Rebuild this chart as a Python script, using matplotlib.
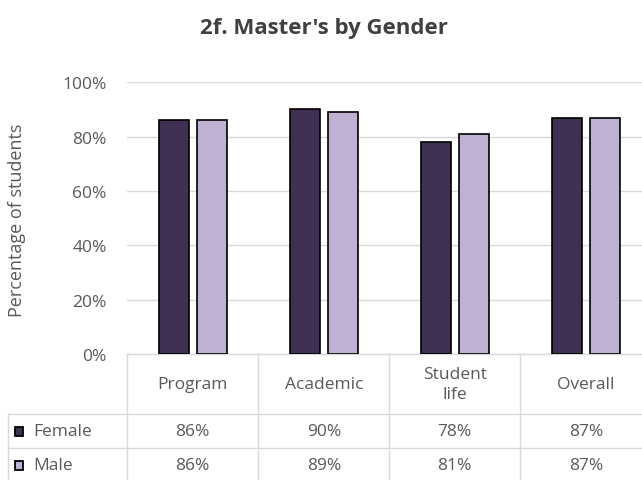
import numpy as np
import matplotlib
matplotlib.use("Agg")
import matplotlib.pyplot as plt
from matplotlib.patches import Rectangle

categories = ["Program", "Academic", "Student\nlife", "Overall"]
series = ["Female", "Male"]
female = [0.86, 0.90, 0.78, 0.87]
male = [0.86, 0.89, 0.81, 0.87]
colors = ["#403152", "#BFB1D2"]

plt.rcParams["font.family"] = ["Open Sans", "DejaVu Sans"]
txt = "#595959"
grid = "#D9D9D9"

W, H = 642, 481
fig = plt.figure(figsize=(W / 100, H / 100), dpi=100)

# plot area in pixels (right side runs past the picture edge)
x0, x1 = 127.3, 651.3
ytop, ybot = 83.3, 355.0
ax = fig.add_axes([x0 / W, 1 - ybot / H, (x1 - x0) / W, (ybot - ytop) / H])

x = np.arange(len(categories))
bw = 0.229
off = 0.143
ax.bar(x - off, female, bw, color=colors[0], edgecolor="black", linewidth=1.2, zorder=3)
ax.bar(x + off, male, bw, color=colors[1], edgecolor="black", linewidth=1.2, zorder=3)

ax.set_xlim(-0.5, len(categories) - 0.5)
ax.set_ylim(0, 1.0)
ax.set_yticks(np.arange(0, 1.01, 0.2))
ax.set_yticklabels([f"{int(round(v * 100))}%" for v in np.arange(0, 1.01, 0.2)],
                   color=txt, fontsize=12.5)
ax.tick_params(axis="y", length=0, pad=14.8)
ax.set_xticks([])
ax.grid(axis="y", color=grid, linewidth=1.0, zorder=0)
for s in ["top", "right", "left"]:
    ax.spines[s].set_visible(False)
ax.spines["bottom"].set_color(grid)
ax.spines["bottom"].set_linewidth(1.0)

fig.text(17 / W, 1 - 220 / H, "Percentage of students", rotation=90, ha="center",
         va="center", color=txt, fontsize=13)
fig.text(324 / W, 1 - 34.3 / H, "2f. Master's by Gender", ha="center", va="baseline",
         fontsize=16, fontweight="bold", color="#404040")

# data table below the plot, in data units (x) and fraction units (y)
ppx = 1 / (x1 - x0) * len(categories)    # data units per pixel, x
ppy = 1 / (ybot - ytop)                   # y units per pixel
def yy(p):
    return (ybot - p) * ppy

def xx(p):
    return -0.5 + (p - x0) * ppx

row_edges = [355, 415, 449, 483]
left = xx(8)
kw = dict(color=grid, linewidth=1.0, clip_on=False, zorder=1)
for i in range(len(categories) + 1):
    ax.plot([i - 0.5, i - 0.5], [yy(row_edges[0]), yy(row_edges[-1])], **kw)
ax.plot([left, left], [yy(row_edges[1]), yy(row_edges[-1])], **kw)
for r in row_edges[1:3]:
    ax.plot([left, len(categories)], [yy(r), yy(r)], **kw)

for i, c in enumerate(categories):
    ax.text(i, yy((row_edges[0] + row_edges[1]) / 2), c, ha="center", va="center",
            color=txt, fontsize=12.5, linespacing=1.3, clip_on=False)

for r, (name, vals, col) in enumerate(zip(series, [female, male], colors)):
    yc = yy((row_edges[r + 1] + row_edges[r + 2]) / 2)
    for i, v in enumerate(vals):
        ax.text(i, yc, f"{int(round(v * 100))}%", ha="center", va="center",
                color=txt, fontsize=12.5, clip_on=False)
    ax.add_patch(Rectangle((xx(15.5), yc - 4.5 * ppy), 8 * ppx, 9 * ppy,
                           facecolor=col, edgecolor="black", linewidth=1.3,
                           clip_on=False, zorder=4))
    ax.text(xx(33), yc, name, ha="left", va="center", color=txt, fontsize=12.5,
            clip_on=False)

fig.savefig("out.png", dpi=100)
